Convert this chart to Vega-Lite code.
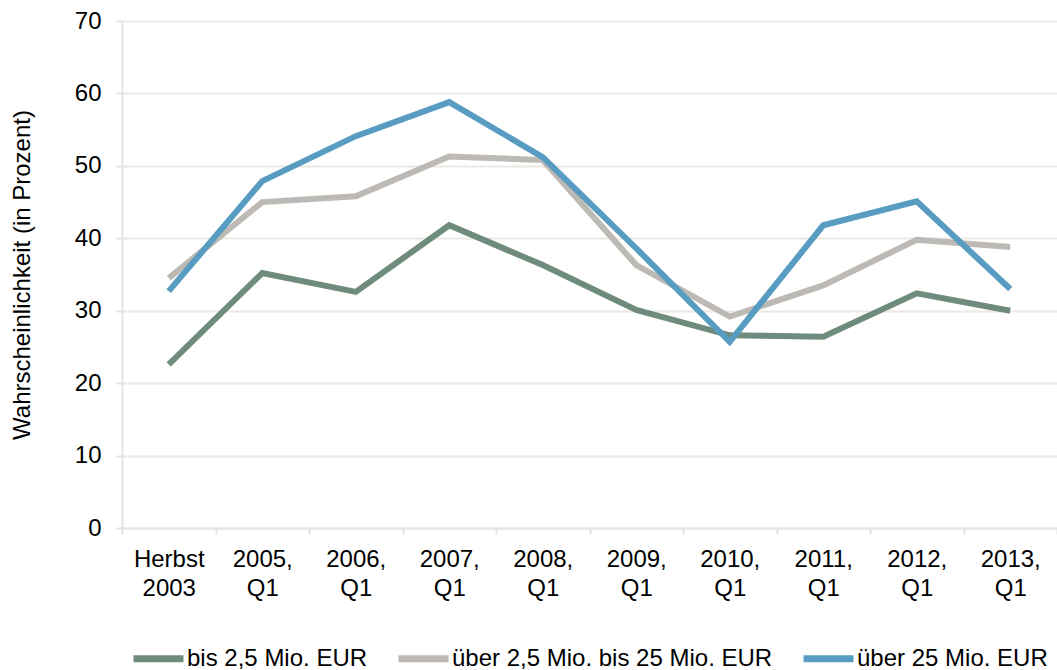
{
  "$schema": "https://vega.github.io/schema/vega-lite/v6.json",
  "width": 935,
  "height": 507,
  "autosize": {"type": "none"},
  "padding": {"left": 122, "top": 21, "right": 0, "bottom": 142},
  "background": "white",
  "config": {
    "font": "Liberation Sans",
    "view": {"stroke": null},
    "axis": {"labelFont": "Liberation Sans", "titleFont": "Liberation Sans", "labelColor": "#000", "titleColor": "#000"},
    "legend": {"labelFont": "Liberation Sans"}
  },
  "data": {
    "values": [
      {"k": "Herbst 2003", "s": "bis 2,5 Mio. EUR", "v": 22.6},
      {"k": "2005, Q1", "s": "bis 2,5 Mio. EUR", "v": 35.2},
      {"k": "2006, Q1", "s": "bis 2,5 Mio. EUR", "v": 32.6},
      {"k": "2007, Q1", "s": "bis 2,5 Mio. EUR", "v": 41.8},
      {"k": "2008, Q1", "s": "bis 2,5 Mio. EUR", "v": 36.3},
      {"k": "2009, Q1", "s": "bis 2,5 Mio. EUR", "v": 30.1},
      {"k": "2010, Q1", "s": "bis 2,5 Mio. EUR", "v": 26.6},
      {"k": "2011, Q1", "s": "bis 2,5 Mio. EUR", "v": 26.4},
      {"k": "2012, Q1", "s": "bis 2,5 Mio. EUR", "v": 32.4},
      {"k": "2013, Q1", "s": "bis 2,5 Mio. EUR", "v": 30.0},
      {"k": "Herbst 2003", "s": "über 2,5 Mio. bis 25 Mio. EUR", "v": 34.5},
      {"k": "2005, Q1", "s": "über 2,5 Mio. bis 25 Mio. EUR", "v": 45.0},
      {"k": "2006, Q1", "s": "über 2,5 Mio. bis 25 Mio. EUR", "v": 45.8},
      {"k": "2007, Q1", "s": "über 2,5 Mio. bis 25 Mio. EUR", "v": 51.3},
      {"k": "2008, Q1", "s": "über 2,5 Mio. bis 25 Mio. EUR", "v": 50.8},
      {"k": "2009, Q1", "s": "über 2,5 Mio. bis 25 Mio. EUR", "v": 36.3},
      {"k": "2010, Q1", "s": "über 2,5 Mio. bis 25 Mio. EUR", "v": 29.2},
      {"k": "2011, Q1", "s": "über 2,5 Mio. bis 25 Mio. EUR", "v": 33.5},
      {"k": "2012, Q1", "s": "über 2,5 Mio. bis 25 Mio. EUR", "v": 39.8},
      {"k": "2013, Q1", "s": "über 2,5 Mio. bis 25 Mio. EUR", "v": 38.8},
      {"k": "Herbst 2003", "s": "über 25 Mio. EUR", "v": 32.7},
      {"k": "2005, Q1", "s": "über 25 Mio. EUR", "v": 47.9},
      {"k": "2006, Q1", "s": "über 25 Mio. EUR", "v": 54.1},
      {"k": "2007, Q1", "s": "über 25 Mio. EUR", "v": 58.8},
      {"k": "2008, Q1", "s": "über 25 Mio. EUR", "v": 51.2},
      {"k": "2009, Q1", "s": "über 25 Mio. EUR", "v": 38.6},
      {"k": "2010, Q1", "s": "über 25 Mio. EUR", "v": 25.7},
      {"k": "2011, Q1", "s": "über 25 Mio. EUR", "v": 41.8},
      {"k": "2012, Q1", "s": "über 25 Mio. EUR", "v": 45.1},
      {"k": "2013, Q1", "s": "über 25 Mio. EUR", "v": 33.0}
    ]
  },
  "mark": {"type": "line", "strokeWidth": 6, "strokeJoin": "miter", "strokeCap": "butt"},
  "encoding": {
    "x": {
      "field": "k", "type": "nominal", "sort": null,
      "scale": {"type": "band", "paddingInner": 0, "paddingOuter": 0},
      "axis": {
        "title": null, "labelAngle": 0, "labelFontSize": 24, "labelLineHeight": 29,
        "labelExpr": "split(datum.label, ' ')", "labelPadding": 13, "labelBaseline": "top",
        "tickBand": "extent", "tickSize": 6, "tickColor": "#e8e3df", "tickWidth": 2,
        "domainColor": "#e8e3df", "domainWidth": 2, "grid": false
      }
    },
    "y": {
      "field": "v", "type": "quantitative",
      "scale": {"domain": [0, 70], "nice": false},
      "axis": {
        "title": "Wahrscheinlichkeit (in Prozent)", "titleFontSize": 24, "titleFontWeight": "normal", "titlePadding": 40,
        "values": [0, 10, 20, 30, 40, 50, 60, 70], "labelFontSize": 24, "labelPadding": 15,
        "tickSize": 6, "tickColor": "#e8e3df", "tickWidth": 2,
        "domainColor": "#e8e3df", "domainWidth": 2,
        "gridColor": "#ece8e4", "gridWidth": 2
      }
    },
    "color": {
      "field": "s", "type": "nominal", "sort": null,
      "scale": {"domain": ["bis 2,5 Mio. EUR", "über 2,5 Mio. bis 25 Mio. EUR", "über 25 Mio. EUR"], "range": ["#6e8b7c", "#bdb9b5", "#589dc1"]},
      "legend": {
        "title": null, "orient": "none", "direction": "horizontal", "legendX": 8, "legendY": 609,
        "symbolType": "stroke", "symbolSize": 2500, "symbolStrokeWidth": 7, "labelFontSize": 24, "labelOffset": 0,
        "columnPadding": 16, "labelLimit": 400
      }
    }
  }
}
